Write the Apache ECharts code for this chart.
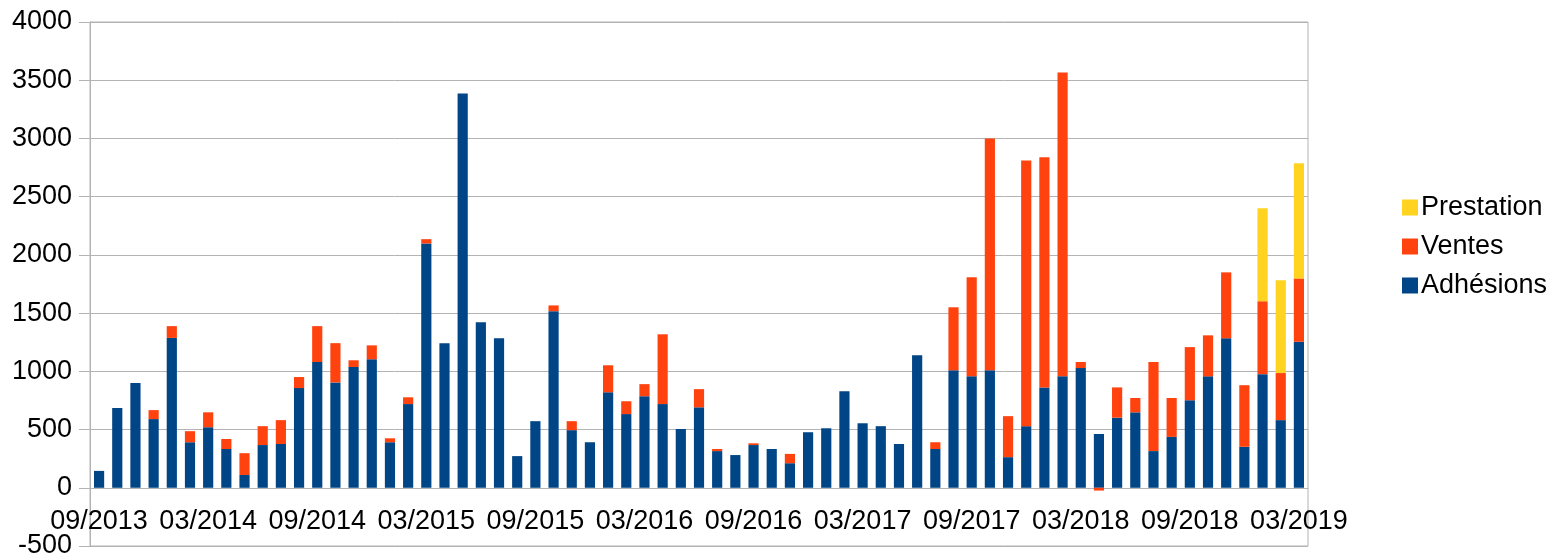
<!DOCTYPE html>
<html>
<head>
<meta charset="utf-8">
<script src="https://cdn.jsdelivr.net/npm/echarts@6/dist/echarts.min.js"></script>
<style>
  html, body { margin: 0; padding: 0; background: #fff; }
  #main { width: 1552px; height: 559px; }
</style>
</head>
<body>
<div id="main"></div>
<script>
var months = [
    '09/2013','10/2013','11/2013','12/2013','01/2014','02/2014','03/2014','04/2014','05/2014','06/2014',
    '07/2014','08/2014','09/2014','10/2014','11/2014','12/2014','01/2015','02/2015','03/2015','04/2015',
    '05/2015','06/2015','07/2015','08/2015','09/2015','10/2015','11/2015','12/2015','01/2016','02/2016',
    '03/2016','04/2016','05/2016','06/2016','07/2016','08/2016','09/2016','10/2016','11/2016','12/2016',
    '01/2017','02/2017','03/2017','04/2017','05/2017','06/2017','07/2017','08/2017','09/2017','10/2017',
    '11/2017','12/2017','01/2018','02/2018','03/2018','04/2018','05/2018','06/2018','07/2018','08/2018',
    '09/2018','10/2018','11/2018','12/2018','01/2019','02/2019','03/2019'
];

var adhesions = [
    145, 685, 900, 590, 1287, 391, 520, 333, 110, 367,
    376, 856, 1080, 905, 1037, 1104, 391, 719, 2098, 1242,
    3385, 1422, 1284, 272, 572, 1517, 495, 391, 820, 633,
    786, 719, 505, 691, 315, 281, 367, 333, 211, 477,
    511, 829, 554, 529, 376, 1138, 333, 1009, 957, 1009,
    263, 529, 862, 957, 1028, 462, 602, 648, 315, 437,
    752, 957, 1284, 352, 976, 581, 1254
];

var ventes = [
    0, 0, 0, 77, 101, 95, 128, 86, 187, 162,
    205, 95, 308, 337, 58, 119, 34, 58, 37, 0,
    0, 0, 0, 0, 0, 49, 77, 0, 232, 110,
    104, 599, 0, 156, 18, 0, 15, 0, 80, 0,
    0, 0, 0, 0, 0, 0, 58, 541, 850, 1991,
    352, 2281, 1976, 2609, 52, -24, 260, 123, 765, 334,
    456, 352, 566, 529, 626, 404, 544
];

var prestation = [
    0, 0, 0, 0, 0, 0, 0, 0, 0, 0,
    0, 0, 0, 0, 0, 0, 0, 0, 0, 0,
    0, 0, 0, 0, 0, 0, 0, 0, 0, 0,
    0, 0, 0, 0, 0, 0, 0, 0, 0, 0,
    0, 0, 0, 0, 0, 0, 0, 0, 0, 0,
    0, 0, 0, 0, 0, 0, 0, 0, 0, 0,
    0, 0, 0, 0, 799, 798, 988
];

var myChart = echarts.init(document.getElementById('main'));

var font = 'Liberation Sans';

var option = {
    animation: false,
    textStyle: { fontFamily: font },
    grid: {
        left: 90,
        right: 244,
        top: 22,
        bottom: 13,
        outerBoundsMode: 'none',
        show: true,
        borderColor: '#b3b3b3',
        borderWidth: 1
    },
    legend: {
        orient: 'vertical',
        left: 1397,
        top: 189,
        itemWidth: 16,
        itemHeight: 16,
        itemGap: 12,
        icon: 'rect',
        data: ['Prestation', 'Ventes', 'Adhésions'],
        textStyle: { fontSize: 27, color: '#000', fontFamily: font, padding: [0, 0, 0, -2] }
    },
    xAxis: {
        type: 'category',
        data: months,
        // axis sits on the zero line (58px above the bottom of the plot)
        offset: -58,
        axisLine: { onZero: false, lineStyle: { color: '#b3b3b3', width: 1 } },
        axisTick: { interval: 5, length: 10, lineStyle: { color: '#b3b3b3' } },
        axisLabel: { interval: 5, fontSize: 27, color: '#000', margin: 20, fontFamily: font }
    },
    yAxis: {
        type: 'value',
        min: -500,
        max: 4000,
        interval: 500,
        axisLine: { show: true, lineStyle: { color: '#b3b3b3' } },
        axisTick: { show: true, length: 11, lineStyle: { color: '#b3b3b3' } },
        axisLabel: {
            fontSize: 27, color: '#000', margin: 18, fontFamily: font,
            formatter: function (v) { return String(v); }
        },
        splitLine: { lineStyle: { color: '#b3b3b3', width: 1 } }
    },
    series: [
        {
            name: 'Adhésions',
            type: 'bar',
            stack: 'total',
            barWidth: '56%',
            itemStyle: { color: '#004586' },
            data: adhesions
        },
        {
            name: 'Ventes',
            type: 'bar',
            stack: 'total',
            itemStyle: { color: '#ff420e' },
            data: ventes
        },
        {
            name: 'Prestation',
            type: 'bar',
            stack: 'total',
            itemStyle: { color: '#ffd320' },
            data: prestation
        }
    ]
};
myChart.setOption(option);
</script>
</body>
</html>
